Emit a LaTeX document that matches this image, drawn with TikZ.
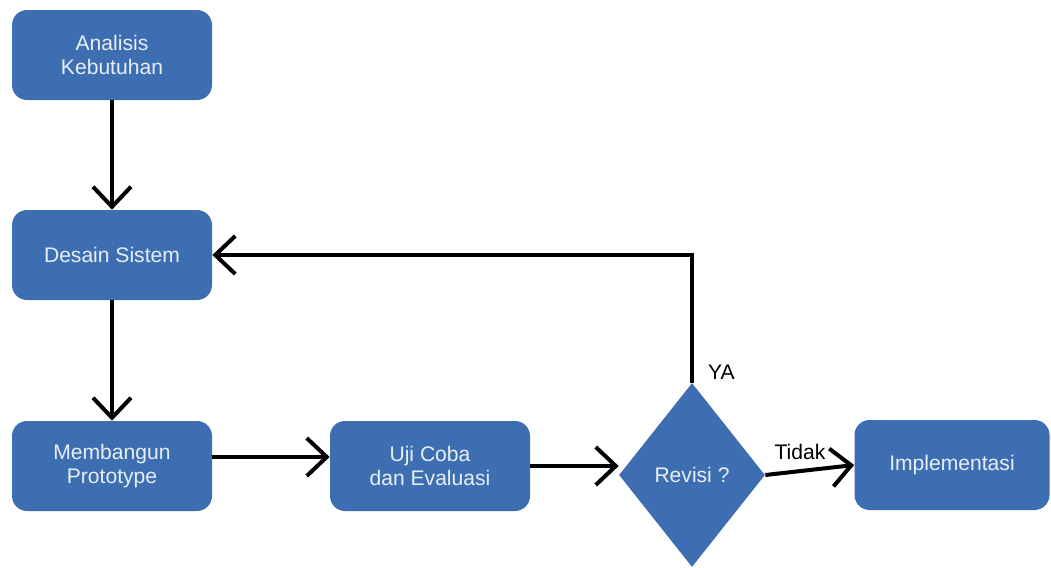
\documentclass[tikz,border=0pt]{standalone}
\usepackage{fontspec}
\setmainfont{Liberation Sans}
\usepackage{tikz}
\usetikzlibrary{arrows.meta,calc,shapes.geometric}
\definecolor{cbox}{RGB}{60,110,177}
\definecolor{ctxt}{RGB}{232,238,246}
\tikzset{
  proc/.style={rectangle,rounded corners=0.3cm,fill=cbox,draw=none,
    minimum width=4.0cm,minimum height=1.8cm,align=center,inner sep=3pt,
    text=ctxt,font=\fontsize{12}{14}\selectfont},
  decide/.style={diamond,fill=cbox,draw=none,inner sep=0pt,
    minimum width=2.92cm,minimum height=3.68cm,align=center,
    text=ctxt,font=\fontsize{12}{14}\selectfont},
  lab/.style={font=\fontsize{12}{14}\selectfont,inner sep=1pt},
  arr/.style={-{Straight Barb[length=0.4cm,width=0.76cm]},line width=0.08cm}
}

\begin{document}
\begin{tikzpicture}
\useasboundingbox (0,0) rectangle (21.02,-11.34);
% ---------------- steps ----------------
\node[proc] (ana) at (2.24,-1.10) {Analisis\\Kebutuhan};
\node[proc] (des) at (2.24,-5.10) {Desain Sistem};
\node[proc] (mem) at (2.24,-9.32) {Membangun\\Prototype};
\node[proc] (uji) at (8.60,-9.32) {Uji Coba\\dan Evaluasi};
\node[decide] (rev) at (13.84,-9.50) {Revisi ?};
\node[proc,minimum width=3.9cm] (imp) at (19.04,-9.30) {Implementasi};
% ---------------- connectors ----------------
\draw[arr] (ana) -- (des);
\draw[arr] (des) -- (mem);
\draw[arr] ([yshift=0.18cm]mem.east) -- ([yshift=0.18cm]uji.west);
\draw[arr] (uji.east) -- (uji.east -| rev.west);
\draw[arr] (rev.east) -- (imp.west);
\draw[arr] (rev.north) -- (rev.north |- des.east) -- (des.east);
% answers
\node[lab,anchor=west] (ya) at ([xshift=0.28cm,yshift=0.2cm]rev.north) {YA};
\node[lab] (tidak) at (16.0,-9.04) {Tidak};
\end{tikzpicture}
\end{document}
